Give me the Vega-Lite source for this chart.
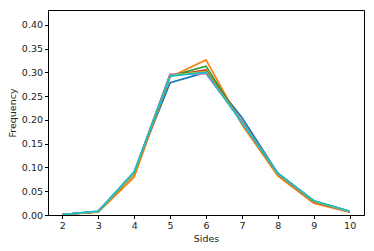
{
  "$schema": "https://vega.github.io/schema/vega-lite/v6.json",
  "width": 316,
  "height": 205,
  "autosize": {"type": "none"},
  "padding": {"left": 48, "top": 10, "right": 10, "bottom": 36},
  "background": "white",
  "config": {
    "view": {"stroke": "#000000", "strokeWidth": 1},
    "font": "DejaVu Sans",
    "axis": {
      "grid": false,
      "domainColor": "#000000",
      "tickColor": "#000000",
      "tickSize": 3.5,
      "labelFont": "DejaVu Sans",
      "labelFontSize": 9.5,
      "labelColor": "#222222",
      "titleFont": "DejaVu Sans",
      "titleFontSize": 9.5,
      "titleFontWeight": "normal",
      "titleColor": "#222222",
      "labelPadding": 2
    }
  },
  "data": {
    "values": [
      {"sides": 2, "run": 0, "freq": 0.001}, {"sides": 3, "run": 0, "freq": 0.007}, {"sides": 4, "run": 0, "freq": 0.090}, {"sides": 5, "run": 0, "freq": 0.278}, {"sides": 6, "run": 0, "freq": 0.300}, {"sides": 7, "run": 0, "freq": 0.205}, {"sides": 8, "run": 0, "freq": 0.088}, {"sides": 9, "run": 0, "freq": 0.030}, {"sides": 10, "run": 0, "freq": 0.008},
      {"sides": 2, "run": 1, "freq": 0.001}, {"sides": 3, "run": 1, "freq": 0.006}, {"sides": 4, "run": 1, "freq": 0.080}, {"sides": 5, "run": 1, "freq": 0.290}, {"sides": 6, "run": 1, "freq": 0.326}, {"sides": 7, "run": 1, "freq": 0.190}, {"sides": 8, "run": 1, "freq": 0.082}, {"sides": 9, "run": 1, "freq": 0.025}, {"sides": 10, "run": 1, "freq": 0.006},
      {"sides": 2, "run": 2, "freq": 0.001}, {"sides": 3, "run": 2, "freq": 0.007}, {"sides": 4, "run": 2, "freq": 0.087}, {"sides": 5, "run": 2, "freq": 0.292}, {"sides": 6, "run": 2, "freq": 0.313}, {"sides": 7, "run": 2, "freq": 0.195}, {"sides": 8, "run": 2, "freq": 0.086}, {"sides": 9, "run": 2, "freq": 0.028}, {"sides": 10, "run": 2, "freq": 0.007},
      {"sides": 2, "run": 3, "freq": 0.001}, {"sides": 3, "run": 3, "freq": 0.007}, {"sides": 4, "run": 3, "freq": 0.088}, {"sides": 5, "run": 3, "freq": 0.293}, {"sides": 6, "run": 3, "freq": 0.305}, {"sides": 7, "run": 3, "freq": 0.196}, {"sides": 8, "run": 3, "freq": 0.087}, {"sides": 9, "run": 3, "freq": 0.028}, {"sides": 10, "run": 3, "freq": 0.007},
      {"sides": 2, "run": 4, "freq": 0.001}, {"sides": 3, "run": 4, "freq": 0.007}, {"sides": 4, "run": 4, "freq": 0.089}, {"sides": 5, "run": 4, "freq": 0.295}, {"sides": 6, "run": 4, "freq": 0.298}, {"sides": 7, "run": 4, "freq": 0.197}, {"sides": 8, "run": 4, "freq": 0.087}, {"sides": 9, "run": 4, "freq": 0.029}, {"sides": 10, "run": 4, "freq": 0.007},
      {"sides": 2, "run": 5, "freq": 0.001}, {"sides": 3, "run": 5, "freq": 0.007}, {"sides": 4, "run": 5, "freq": 0.088}, {"sides": 5, "run": 5, "freq": 0.294}, {"sides": 6, "run": 5, "freq": 0.300}, {"sides": 7, "run": 5, "freq": 0.196}, {"sides": 8, "run": 5, "freq": 0.087}, {"sides": 9, "run": 5, "freq": 0.029}, {"sides": 10, "run": 5, "freq": 0.007},
      {"sides": 2, "run": 6, "freq": 0.001}, {"sides": 3, "run": 6, "freq": 0.007}, {"sides": 4, "run": 6, "freq": 0.089}, {"sides": 5, "run": 6, "freq": 0.296}, {"sides": 6, "run": 6, "freq": 0.297}, {"sides": 7, "run": 6, "freq": 0.197}, {"sides": 8, "run": 6, "freq": 0.087}, {"sides": 9, "run": 6, "freq": 0.029}, {"sides": 10, "run": 6, "freq": 0.007},
      {"sides": 2, "run": 7, "freq": 0.001}, {"sides": 3, "run": 7, "freq": 0.007}, {"sides": 4, "run": 7, "freq": 0.088}, {"sides": 5, "run": 7, "freq": 0.294}, {"sides": 6, "run": 7, "freq": 0.301}, {"sides": 7, "run": 7, "freq": 0.196}, {"sides": 8, "run": 7, "freq": 0.087}, {"sides": 9, "run": 7, "freq": 0.029}, {"sides": 10, "run": 7, "freq": 0.007},
      {"sides": 2, "run": 8, "freq": 0.001}, {"sides": 3, "run": 8, "freq": 0.007}, {"sides": 4, "run": 8, "freq": 0.088}, {"sides": 5, "run": 8, "freq": 0.293}, {"sides": 6, "run": 8, "freq": 0.302}, {"sides": 7, "run": 8, "freq": 0.195}, {"sides": 8, "run": 8, "freq": 0.087}, {"sides": 9, "run": 8, "freq": 0.029}, {"sides": 10, "run": 8, "freq": 0.007},
      {"sides": 2, "run": 9, "freq": 0.001}, {"sides": 3, "run": 9, "freq": 0.008}, {"sides": 4, "run": 9, "freq": 0.091}, {"sides": 5, "run": 9, "freq": 0.292}, {"sides": 6, "run": 9, "freq": 0.300}, {"sides": 7, "run": 9, "freq": 0.194}, {"sides": 8, "run": 9, "freq": 0.088}, {"sides": 9, "run": 9, "freq": 0.030}, {"sides": 10, "run": 9, "freq": 0.008}
    ]
  },
  "mark": {"type": "line", "strokeWidth": 1.7, "clip": true},
  "encoding": {
    "x": {
      "field": "sides", "type": "quantitative",
      "scale": {"domain": [1.6, 10.4], "nice": false, "zero": false},
      "axis": {"values": [2, 3, 4, 5, 6, 7, 8, 9, 10], "title": "Sides", "titlePadding": 3}
    },
    "y": {
      "field": "freq", "type": "quantitative",
      "scale": {"domain": [0, 0.431], "nice": false},
      "axis": {"values": [0, 0.05, 0.1, 0.15, 0.2, 0.25, 0.3, 0.35, 0.4], "format": ".2f", "title": "Frequency", "titlePadding": 4}
    },
    "color": {
      "field": "run", "type": "nominal",
      "scale": {"scheme": "category10"},
      "legend": null
    },
    "order": {"field": "sides"}
  }
}
